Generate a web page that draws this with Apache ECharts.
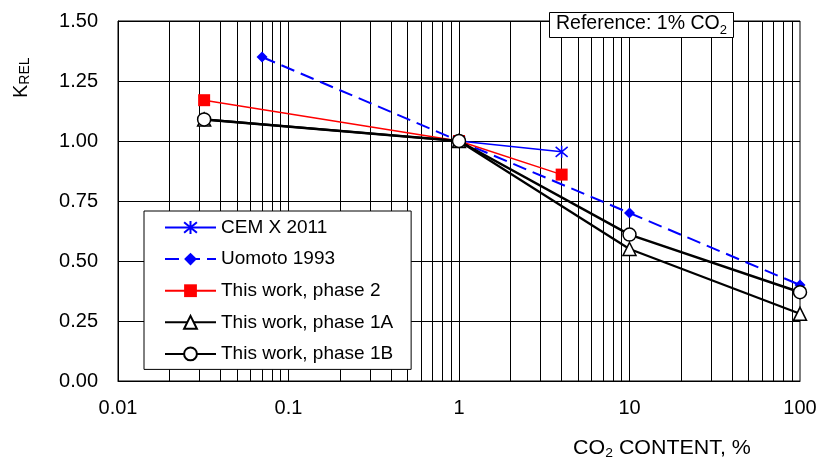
<!DOCTYPE html>
<html><head><meta charset="utf-8">
<script src="https://cdn.jsdelivr.net/npm/echarts@6/dist/echarts.min.js"></script>
<style>html,body{margin:0;padding:0;background:#fff}#c{width:820px;height:460px}</style>
</head><body><div id="c"></div>
<script>
// Data (CO2 content %, relative K)
const cemX2011 = [[1, 1.00], [4, 0.955]];
const uomoto1993 = [[0.07, 1.35], [1, 1.00], [10, 0.70], [100, 0.40]];
const phase2 = [[0.032, 1.17], [1, 1.00], [4, 0.86]];
const phase1A = [[0.032, 1.09], [1, 1.00], [10, 0.55], [100, 0.28]];
const phase1B = [[0.032, 1.09], [1, 1.00], [10, 0.61], [100, 0.37]];
const xTickLabels = ['0.01', '0.1', '1', '10', '100'];
const yTicks = [0, 0.25, 0.5, 0.75, 1.0, 1.25, 1.5];
const seriesNames = ['CEM X 2011', 'Uomoto 1993', 'This work, phase 2', 'This work, phase 1A', 'This work, phase 1B'];

// vertical log grid lines at 1..9 x 10^k
const vGrid = [];
[0.01, 0.1, 1, 10].forEach(d => { for (let m = 1; m <= 9; m++) { if (!(d === 0.01 && m === 1)) vGrid.push(+(m * d).toPrecision(3)); } });

const FONT = '"Liberation Sans", Arial, sans-serif';
const mctx = document.createElement('canvas').getContext('2d');
function tw(text, size) { mctx.font = size + 'px ' + FONT; return mctx.measureText(text).width; }
function txt(text, x, y, size, z) {
  return {type: 'text', x: x, y: y, z: z || 50, style: {text: text, fontSize: size, fontFamily: FONT, fill: '#000', align: 'left', verticalAlign: 'middle'}};
}

const chart = echarts.init(document.getElementById('c'), null, {renderer: 'canvas'});
const starPath = 'path://M0,0L10,10M10,0L0,10M5,-1L5,11';

// x-axis title pieces
const xtA = 'CO', xtB = '2', xtC = ' CONTENT, %';
const xtW = tw(xtA, 20) + tw(xtB, 13) + tw(xtC, 20);
const xt0 = -xtW / 2;
// reference label pieces
const refA = 'Reference: 1% CO', refB = '2';

chart.setOption({
  animation: false,
  backgroundColor: '#fff',
  textStyle: {fontFamily: FONT, color: '#000'},
  grid: {left: 118, right: 20, top: 21, bottom: 79, show: true, borderColor: '#000', borderWidth: 1, backgroundColor: 'transparent'},
  xAxis: {
    type: 'log', logBase: 10, min: 0.01, max: 100,
    axisLine: {show: true, lineStyle: {color: '#000', width: 1}},
    axisTick: {show: false},
    splitLine: {show: false},
    minorTick: {show: false},
    axisLabel: {color: '#000', fontSize: 20, fontFamily: FONT, margin: 17,
      formatter: v => { const i = Math.round(Math.log10(v)) + 2; return xTickLabels[i] || ''; }}
  },
  yAxis: {
    type: 'value', min: 0, max: 1.5, interval: 0.25,
    axisLine: {show: true, lineStyle: {color: '#000', width: 1}},
    axisTick: {show: false},
    splitLine: {show: true, lineStyle: {color: '#000', width: 1}},
    axisLabel: {color: '#000', fontSize: 20, fontFamily: FONT, margin: 20,
      formatter: v => yTicks.indexOf(v) >= 0 ? v.toFixed(2) : ''}
  },
  legend: {
    orient: 'vertical', left: 144, top: 211, z: 20,
    backgroundColor: '#fff', borderColor: '#000', borderWidth: 1,
    padding: [7, 18, 6, 20],
    itemWidth: 51, itemHeight: 16, itemGap: 12.6,
    textStyle: {fontSize: 19, fontFamily: FONT, color: '#000', lineHeight: 18},
    data: seriesNames
  },
  series: [
    {
      type: 'line', name: '_grid', data: [], silent: true, z: 1,
      markLine: {silent: true, symbol: ['none', 'none'], label: {show: false},
        lineStyle: {color: '#000', width: 1, type: 'solid'}, animation: false,
        data: vGrid.map(v => ({xAxis: v}))}
    },
    {
      type: 'line', name: seriesNames[0], data: cemX2011, z: 5,
      symbol: starPath, symbolSize: 12,
      lineStyle: {color: '#0000ff', width: 1.5},
      itemStyle: {color: 'rgba(0,0,0,0)', borderColor: '#0000ff', borderWidth: 1.5}
    },
    {
      type: 'line', name: seriesNames[1], data: uomoto1993, z: 6,
      symbol: 'diamond', symbolSize: 11,
      lineStyle: {color: '#0000ff', width: 2, type: [14, 7]},
      itemStyle: {color: '#0000ff', borderColor: '#0000ff', borderWidth: 0}
    },
    {
      type: 'line', name: seriesNames[2], data: phase2, z: 7,
      symbol: 'rect', symbolSize: 12,
      lineStyle: {color: '#ff0000', width: 1.5},
      itemStyle: {color: '#ff0000', borderColor: '#ff0000', borderWidth: 0}
    },
    {
      type: 'line', name: seriesNames[3], data: phase1A, z: 8,
      symbol: 'triangle', symbolSize: 13,
      lineStyle: {color: '#000', width: 2.2},
      itemStyle: {color: '#fff', borderColor: '#000', borderWidth: 1.5}
    },
    {
      type: 'line', name: seriesNames[4], data: phase1B, z: 9,
      symbol: 'circle', symbolSize: 13,
      lineStyle: {color: '#000', width: 2.5},
      itemStyle: {color: '#fff', borderColor: '#000', borderWidth: 1.5}
    }
  ],
  graphic: [
    {
      type: 'group', x: 21, y: 98, rotation: Math.PI / 2,
      children: [
        txt('K', 0, 0, 20),
        txt('REL', tw('K', 20), 4, 14)
      ]
    },
    {
      type: 'group', x: 662, y: 0, scaleX: 1.07,
      children: [
        txt(xtA, xt0, 448, 20),
        txt(xtB, xt0 + tw(xtA, 20), 453, 13),
        txt(xtC, xt0 + tw(xtA, 20) + tw(xtB, 13), 448, 20)
      ]
    },
    {
      type: 'rect', z: 60, shape: {x: 549.5, y: 12.5, width: 184, height: 25},
      style: {fill: '#fff', stroke: '#000', lineWidth: 1}
    },
    txt(refA, 556, 24, 19.5, 70),
    txt(refB, 556 + tw(refA, 19.5), 30, 13, 70)
  ]
});
</script>
</body></html>
